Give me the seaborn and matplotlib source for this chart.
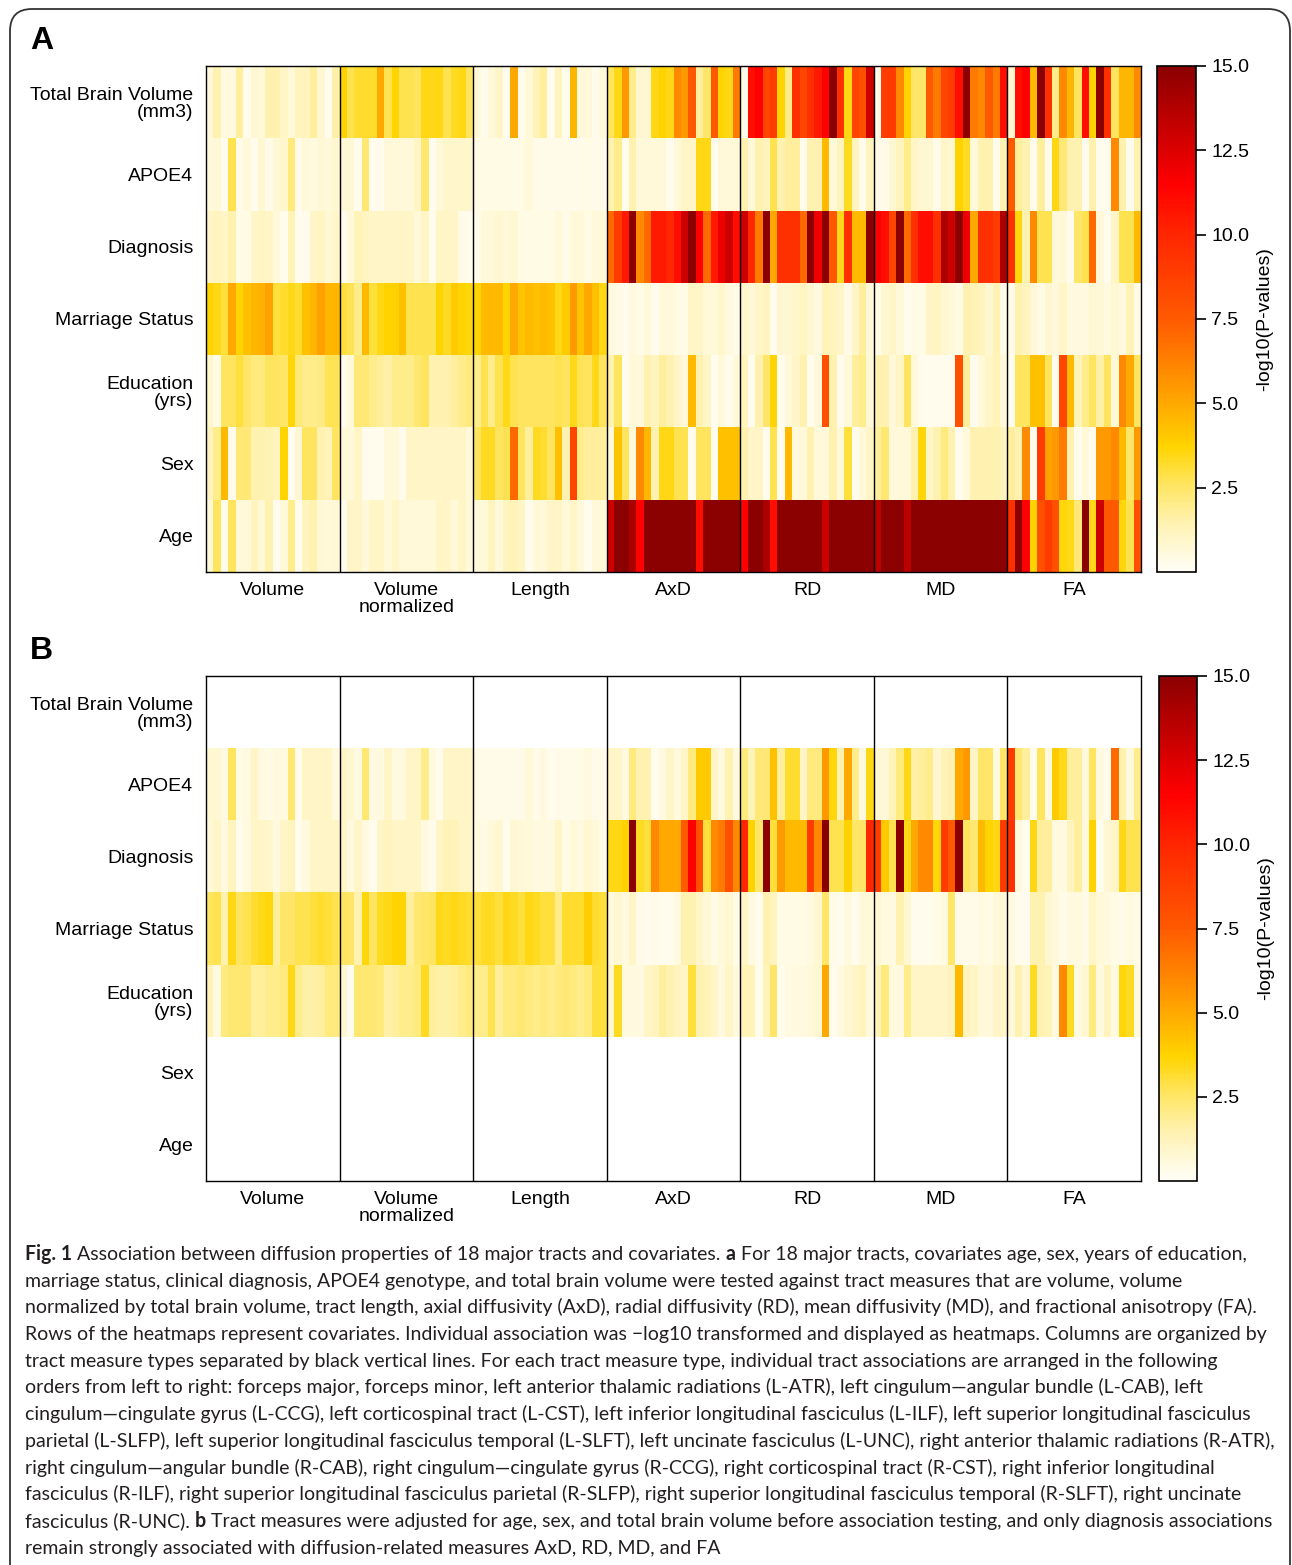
import numpy as np
import pandas as pd
import seaborn as sns
import matplotlib
matplotlib.use("Agg")
import matplotlib.pyplot as plt
from matplotlib.colors import LinearSegmentedColormap
from matplotlib.patches import FancyBboxPatch
from matplotlib.transforms import IdentityTransform, ScaledTranslation

# ---------------- data ----------------
covariates = ["Total Brain Volume\n(mm3)", "APOE4", "Diagnosis", "Marriage Status",
              "Education\n(yrs)", "Sex", "Age"]
measures = ["Volume", "Volume\nnormalized", "Length", "AxD", "RD", "MD", "FA"]
tracts = ["Fmajor", "Fminor", "L-ATR", "L-CAB", "L-CCG", "L-CST", "L-ILF", "L-SLFP", "L-SLFT",
          "L-UNC", "R-ATR", "R-CAB", "R-CCG", "R-CST", "R-ILF", "R-SLFP", "R-SLFT", "R-UNC"]
cbar_ticks = [2.5, 5.0, 7.5, 10.0, 12.5, 15.0]

# Panel A  (rows: TBV, APOE4, Diagnosis, Marriage, Education, Sex, Age; 18 tracts each)
a_volume = [
    [0.6, 1.5, 0.5, 0.5, 1.8, 0.2, 0.8, 0.6, 1.5, 1.5, 1.0, 0.6, 1.2, 1.2, 1.8, 0.8, 0.2, 1.6],
    [0.6, 0.7, 0.2, 2.8, 0.3, 0.6, 0.2, 0.8, 0.3, 0.7, 0.9, 2.2, 0.3, 0.6, 0.5, 0.7, 0.6, 0.8],
    [1.0, 1.2, 1.0, 1.5, 0.4, 0.4, 1.0, 1.1, 1.0, 0.6, 0.2, 1.3, 0.2, 0.2, 1.0, 1.1, 0.7, 0.9],
    [3.8, 3.5, 3.0, 5.0, 3.7, 4.3, 4.6, 4.7, 5.2, 3.0, 3.2, 3.4, 3.2, 4.3, 4.6, 5.2, 4.6, 4.6],
    [0.9, 0.4, 2.6, 2.6, 3.0, 2.5, 2.2, 2.2, 2.6, 2.6, 2.5, 3.6, 2.3, 2.0, 2.0, 2.1, 2.7, 2.7],
    [1.2, 2.0, 4.5, 0.3, 2.3, 2.3, 1.5, 1.5, 1.4, 1.2, 3.7, 0.2, 0.8, 2.6, 2.6, 1.5, 1.3, 2.6],
    [0.7, 2.6, 0.2, 2.6, 0.6, 0.6, 1.2, 0.7, 1.5, 0.2, 0.6, 2.0, 0.2, 1.2, 1.5, 0.7, 0.6, 0.7],
]
a_volnorm = [
    [3.8, 2.8, 3.2, 3.2, 3.2, 5.0, 2.8, 3.7, 2.8, 2.8, 2.6, 3.5, 3.5, 3.5, 2.8, 3.3, 3.5, 2.6],
    [0.7, 0.7, 0.2, 2.4, 0.2, 0.2, 0.6, 0.6, 0.6, 0.6, 1.0, 2.4, 0.2, 0.6, 0.9, 0.9, 0.9, 0.9],
    [0.2, 0.6, 1.3, 1.1, 1.0, 1.0, 1.0, 1.0, 1.0, 1.0, 0.6, 1.0, 0.2, 1.0, 1.0, 1.0, 0.3, 0.2],
    [3.0, 2.7, 2.0, 4.5, 3.0, 3.5, 3.8, 3.8, 4.3, 2.8, 2.8, 2.8, 2.8, 3.7, 3.3, 4.0, 3.7, 3.6],
    [0.2, 0.6, 2.3, 2.3, 2.0, 1.8, 1.6, 2.0, 2.0, 2.0, 2.4, 2.6, 1.5, 1.5, 1.5, 1.8, 2.0, 2.2],
    [0.6, 0.6, 1.0, 0.2, 0.2, 0.2, 0.6, 0.6, 0.2, 1.0, 1.0, 1.0, 1.0, 1.0, 1.0, 1.0, 1.0, 0.6],
    [0.2, 1.0, 1.0, 0.6, 1.0, 1.0, 0.6, 1.0, 0.6, 0.6, 0.6, 0.6, 0.6, 1.0, 1.0, 0.6, 1.0, 0.6],
]
a_length = [
    [0.6, 0.2, 0.6, 1.0, 0.2, 5.0, 0.2, 0.6, 1.3, 1.8, 0.2, 1.2, 0.2, 4.6, 0.6, 0.6, 0.2, 0.6],
    [0.4, 0.4, 0.4, 0.4, 0.4, 0.4, 0.4, 0.6, 0.3, 0.3, 0.3, 0.3, 0.3, 0.3, 0.3, 0.4, 0.3, 0.3],
    [0.3, 0.6, 0.6, 0.8, 0.6, 0.8, 0.4, 0.4, 0.4, 0.4, 0.4, 0.6, 0.3, 0.6, 0.6, 0.4, 0.6, 0.6],
    [3.7, 4.5, 4.5, 4.5, 3.7, 5.0, 4.2, 4.5, 4.3, 4.5, 4.3, 3.5, 4.0, 5.5, 4.2, 5.0, 4.3, 3.5],
    [2.0, 2.8, 2.0, 2.8, 3.4, 2.8, 2.6, 2.6, 2.6, 2.6, 2.6, 2.8, 2.6, 3.4, 2.7, 2.6, 3.4, 2.6],
    [2.6, 3.3, 3.3, 2.6, 2.8, 7.0, 2.6, 1.8, 3.3, 3.2, 2.6, 4.3, 1.5, 8.5, 2.0, 1.8, 1.8, 1.8],
    [0.6, 0.6, 1.2, 0.6, 1.2, 1.3, 1.0, 0.2, 0.6, 0.6, 1.0, 1.0, 0.6, 1.0, 0.6, 0.2, 0.6, 0.6],
]
a_axd = [
    [2.6, 3.5, 5.5, 2.0, 0.8, 0.8, 3.5, 3.8, 3.5, 6.0, 5.5, 7.5, 1.8, 2.5, 7.5, 3.7, 3.5, 6.5],
    [1.5, 2.0, 0.2, 1.5, 0.6, 0.6, 0.6, 0.6, 0.2, 0.6, 1.0, 1.0, 3.5, 3.5, 0.2, 0.6, 0.6, 0.6],
    [7.0, 9.0, 10.5, 15.0, 6.0, 7.0, 10.5, 10.5, 10.0, 11.0, 13.0, 15.0, 11.5, 7.0, 10.5, 12.0, 13.0, 11.0],
    [0.5, 0.4, 0.2, 0.5, 0.4, 0.6, 0.2, 0.6, 0.6, 0.4, 0.4, 1.0, 1.0, 0.6, 0.6, 0.9, 0.5, 0.3],
    [1.5, 2.6, 0.2, 0.6, 0.6, 1.5, 1.2, 1.8, 1.5, 1.0, 0.6, 4.5, 1.5, 1.0, 0.2, 0.6, 0.2, 0.6],
    [0.6, 4.2, 2.6, 0.6, 6.0, 4.6, 1.5, 3.5, 3.5, 2.8, 2.8, 0.2, 2.6, 2.6, 0.2, 4.3, 4.3, 4.3],
    [13.0, 15.0, 15.0, 14.0, 11.5, 15.0, 15.0, 15.0, 15.0, 15.0, 15.0, 15.0, 11.0, 15.0, 15.0, 15.0, 15.0, 15.0],
]
a_rd = [
    [0.3, 11.0, 11.5, 8.5, 9.0, 3.7, 2.0, 9.5, 8.5, 9.5, 10.5, 11.5, 15.0, 9.5, 3.5, 8.5, 8.0, 13.0],
    [1.5, 0.6, 1.5, 1.2, 2.8, 1.5, 1.8, 1.8, 0.2, 1.5, 1.5, 4.5, 0.6, 1.2, 3.3, 1.2, 0.2, 1.2],
    [13.0, 10.0, 6.5, 15.0, 5.0, 9.5, 9.5, 9.5, 7.0, 15.0, 12.0, 15.0, 7.5, 3.4, 9.5, 4.5, 4.5, 15.0],
    [0.9, 0.7, 1.0, 1.2, 0.2, 0.8, 0.8, 0.9, 1.1, 0.8, 0.5, 1.3, 1.2, 1.0, 0.3, 1.0, 1.8, 0.6],
    [1.2, 0.2, 1.5, 2.5, 3.7, 0.2, 0.6, 1.0, 1.5, 0.2, 0.6, 8.0, 1.5, 0.2, 0.6, 1.8, 2.0, 0.6],
    [1.5, 1.0, 1.0, 0.2, 2.8, 0.2, 4.5, 0.6, 0.6, 1.5, 0.6, 0.6, 1.5, 0.6, 3.0, 0.2, 0.6, 1.0],
    [11.5, 15.0, 15.0, 14.0, 11.0, 15.0, 15.0, 15.0, 15.0, 15.0, 15.0, 13.0, 15.0, 15.0, 15.0, 15.0, 15.0, 15.0],
]
a_md = [
    [0.3, 9.0, 9.0, 6.0, 3.8, 2.5, 2.5, 7.5, 6.5, 8.5, 9.0, 11.0, 15.0, 6.5, 6.0, 7.5, 6.5, 11.0],
    [0.3, 0.3, 0.8, 1.2, 2.0, 1.0, 0.8, 0.8, 0.3, 1.0, 0.8, 3.8, 3.3, 0.6, 1.5, 1.5, 0.2, 1.5],
    [11.5, 11.0, 8.5, 15.0, 7.0, 9.5, 11.0, 11.0, 9.5, 14.0, 13.0, 15.0, 12.0, 5.0, 9.5, 9.5, 9.0, 14.0],
    [0.4, 0.8, 1.0, 0.6, 0.2, 0.4, 0.4, 1.0, 1.1, 0.8, 0.6, 0.4, 1.5, 1.4, 1.2, 0.8, 1.4, 0.3],
    [1.5, 1.5, 0.6, 1.0, 2.6, 0.6, 0.2, 0.2, 0.2, 0.2, 0.2, 8.0, 1.8, 0.2, 0.6, 1.0, 1.3, 0.6],
    [1.8, 2.4, 0.6, 0.6, 0.6, 1.5, 3.6, 1.0, 1.5, 2.2, 1.5, 0.2, 0.6, 1.5, 1.5, 1.5, 1.5, 1.2],
    [13.5, 15.0, 15.0, 15.0, 13.5, 15.0, 15.0, 15.0, 15.0, 15.0, 15.0, 15.0, 15.0, 15.0, 15.0, 15.0, 15.0, 15.0],
]
a_fa = [
    [0.8, 11.0, 11.5, 4.5, 15.0, 9.5, 2.0, 6.0, 4.6, 2.6, 11.0, 3.7, 15.0, 9.5, 2.6, 4.6, 4.6, 6.0],
    [7.5, 1.8, 1.5, 0.2, 1.8, 0.2, 3.5, 2.3, 1.5, 1.5, 0.2, 1.5, 0.2, 0.2, 6.0, 1.5, 0.2, 1.5],
    [9.5, 3.6, 1.5, 6.0, 2.8, 2.8, 0.6, 0.6, 0.2, 2.5, 2.8, 7.0, 0.6, 0.2, 1.0, 2.8, 2.8, 4.5],
    [0.3, 1.5, 1.2, 0.7, 0.4, 0.8, 0.6, 1.0, 0.5, 0.5, 0.5, 0.8, 0.7, 0.5, 0.8, 0.5, 1.3, 0.4],
    [0.2, 2.6, 2.6, 4.3, 4.3, 2.6, 0.2, 8.5, 4.5, 1.3, 2.0, 2.6, 1.6, 2.6, 0.6, 6.0, 5.0, 2.6],
    [1.8, 1.5, 6.0, 0.2, 9.0, 5.2, 5.5, 6.5, 1.5, 0.2, 0.6, 0.2, 5.5, 5.5, 6.0, 4.5, 2.5, 5.5],
    [9.5, 15.0, 11.5, 3.8, 8.0, 9.0, 8.0, 3.6, 3.4, 2.3, 15.0, 3.4, 13.0, 7.5, 7.5, 3.6, 2.8, 8.0],
]

# Panel B (TBV, Sex and Age rows are empty after adjustment -> missing)
empty_row = [np.nan] * 18
b_volume = [
    empty_row,
    [0.8, 0.8, 0.5, 2.6, 0.4, 0.5, 1.0, 0.5, 0.4, 0.5, 0.5, 2.4, 0.2, 1.0, 1.0, 1.0, 1.0, 0.5],
    [0.6, 1.0, 0.5, 1.2, 0.2, 0.5, 1.0, 1.0, 0.9, 0.5, 1.0, 1.2, 0.2, 0.5, 1.0, 1.0, 1.0, 1.0],
    [2.6, 2.8, 1.5, 3.5, 2.6, 2.8, 3.2, 3.4, 3.6, 1.8, 2.5, 2.5, 2.8, 2.8, 3.0, 3.2, 3.0, 2.8],
    [1.3, 0.5, 2.2, 2.4, 2.4, 2.4, 1.8, 1.8, 2.0, 2.0, 2.2, 3.4, 2.0, 1.6, 1.6, 1.7, 2.2, 2.2],
    empty_row,
    empty_row,
]
b_volnorm = [
    empty_row,
    [1.0, 0.8, 0.5, 2.4, 0.5, 0.5, 1.0, 0.5, 0.5, 1.0, 1.0, 2.0, 0.5, 0.2, 1.0, 1.0, 1.0, 1.0],
    [1.0, 0.5, 1.0, 0.5, 0.2, 1.0, 1.2, 1.0, 1.0, 1.0, 1.0, 0.5, 0.2, 1.0, 1.3, 1.3, 1.0, 1.0],
    [2.6, 2.5, 1.5, 3.6, 2.6, 3.3, 3.5, 3.7, 3.7, 1.8, 2.4, 2.5, 2.6, 3.4, 3.3, 3.5, 3.3, 3.2],
    [0.8, 0.2, 2.4, 2.4, 2.4, 2.2, 1.6, 1.8, 2.0, 2.0, 2.2, 3.3, 1.8, 1.6, 1.6, 1.7, 2.0, 2.2],
    empty_row,
    empty_row,
]
b_length = [
    empty_row,
    [0.4, 0.3, 0.3, 0.3, 0.3, 0.3, 0.3, 0.6, 0.3, 0.5, 0.2, 0.3, 0.3, 0.3, 0.4, 0.5, 0.3, 0.3],
    [0.5, 0.4, 0.6, 0.8, 0.2, 0.8, 0.6, 0.6, 0.5, 0.5, 0.5, 1.0, 0.4, 0.6, 0.5, 0.8, 0.6, 0.4],
    [3.0, 3.3, 3.3, 3.0, 3.5, 3.3, 3.0, 3.5, 3.3, 3.0, 3.0, 2.0, 3.2, 3.2, 3.2, 3.9, 3.2, 3.0],
    [2.0, 2.0, 2.8, 1.8, 2.2, 2.2, 2.4, 2.2, 2.0, 2.2, 2.0, 2.2, 2.3, 2.2, 2.0, 2.2, 3.0, 3.0],
    empty_row,
    empty_row,
]
b_axd = [
    empty_row,
    [1.0, 1.0, 0.5, 2.2, 1.5, 1.5, 0.2, 0.5, 1.0, 0.5, 1.0, 2.2, 4.0, 4.0, 1.0, 0.5, 1.5, 0.5],
    [3.5, 3.5, 3.8, 15.0, 3.3, 3.0, 6.0, 5.0, 5.0, 5.0, 7.5, 11.5, 8.0, 3.0, 6.0, 6.5, 8.0, 6.0],
    [0.5, 0.8, 0.5, 1.0, 0.3, 0.2, 0.3, 0.2, 0.2, 0.5, 1.5, 1.5, 1.0, 0.7, 0.4, 0.6, 0.8, 0.4],
    [0.8, 3.3, 0.5, 0.5, 0.5, 1.0, 1.2, 1.8, 1.5, 1.2, 1.0, 3.0, 1.5, 1.3, 1.0, 0.5, 1.0, 0.5],
    empty_row,
    empty_row,
]
b_rd = [
    empty_row,
    [2.2, 1.3, 2.3, 2.3, 4.3, 1.8, 3.2, 3.2, 1.0, 2.2, 2.2, 5.5, 3.6, 1.5, 5.0, 2.0, 0.5, 3.5],
    [10.0, 3.8, 2.5, 15.0, 3.0, 5.5, 4.5, 4.5, 4.5, 9.0, 6.0, 15.0, 2.8, 2.8, 3.8, 2.5, 2.5, 10.0],
    [1.0, 0.5, 0.2, 1.5, 1.2, 0.4, 0.4, 0.4, 0.4, 0.5, 0.8, 2.5, 0.3, 0.2, 0.5, 0.2, 0.6, 0.6],
    [1.3, 1.3, 0.2, 1.3, 2.5, 0.2, 0.5, 0.5, 0.5, 0.6, 0.8, 5.0, 0.2, 0.5, 0.8, 1.0, 1.2, 0.5],
    empty_row,
    empty_row,
]
b_md = [
    empty_row,
    [0.8, 0.7, 1.3, 2.2, 3.5, 1.6, 1.8, 2.0, 0.8, 1.3, 1.5, 5.0, 5.5, 1.0, 2.5, 2.5, 0.5, 2.5],
    [9.0, 4.0, 2.8, 15.0, 3.4, 5.0, 6.0, 6.0, 3.6, 9.0, 7.5, 15.0, 2.6, 2.4, 4.5, 3.7, 3.5, 9.0],
    [0.8, 0.5, 0.5, 1.5, 0.8, 0.2, 0.2, 0.2, 0.4, 0.5, 2.5, 0.3, 0.3, 0.3, 0.5, 0.4, 0.6, 0.7],
    [1.3, 2.2, 0.5, 0.5, 2.0, 1.0, 1.0, 1.0, 1.0, 1.0, 1.2, 4.5, 1.2, 1.0, 0.6, 0.6, 1.0, 1.0],
    empty_row,
    empty_row,
]
b_fa = [
    empty_row,
    [9.0, 2.4, 1.8, 0.2, 2.6, 0.5, 4.0, 3.4, 1.8, 1.8, 0.5, 2.6, 0.5, 0.2, 7.0, 1.5, 0.5, 2.0],
    [9.5, 0.5, 0.2, 3.5, 1.8, 1.8, 0.5, 0.5, 1.2, 1.8, 0.5, 3.8, 0.2, 0.8, 1.0, 3.5, 2.8, 2.8],
    [0.5, 0.2, 0.2, 1.5, 1.5, 0.8, 0.6, 0.3, 0.5, 0.5, 0.3, 1.0, 0.6, 0.5, 0.4, 0.3, 0.5, 0.4],
    [0.6, 1.5, 0.8, 3.3, 1.5, 1.3, 0.5, 6.0, 3.3, 0.5, 0.8, 2.2, 0.5, 1.2, 0.5, 3.6, 3.3, 0.5],
    empty_row,
    empty_row,
]

caption_lines = [
    [("Fig. 1", True), ("Association between diffusion properties of 18 major tracts and covariates.", False),
     ("a", True), ("For 18 major tracts, covariates age, sex, years of education,", False)],
    [("marriage status, clinical diagnosis, APOE4 genotype, and total brain volume were tested against tract measures that are volume, volume", False)],
    [("normalized by total brain volume, tract length, axial diffusivity (AxD), radial diffusivity (RD), mean diffusivity (MD), and fractional anisotropy (FA).", False)],
    [("Rows of the heatmaps represent covariates. Individual association was \u2212log10 transformed and displayed as heatmaps. Columns are organized by", False)],
    [("tract measure types separated by black vertical lines. For each tract measure type, individual tract associations are arranged in the following", False)],
    [("orders from left to right: forceps major, forceps minor, left anterior thalamic radiations (L-ATR), left cingulum\u2014angular bundle (L-CAB), left", False)],
    [("cingulum\u2014cingulate gyrus (L-CCG), left corticospinal tract (L-CST), left inferior longitudinal fasciculus (L-ILF), left superior longitudinal fasciculus", False)],
    [("parietal (L-SLFP), left superior longitudinal fasciculus temporal (L-SLFT), left uncinate fasciculus (L-UNC), right anterior thalamic radiations (R-ATR),", False)],
    [("right cingulum\u2014angular bundle (R-CAB), right cingulum\u2014cingulate gyrus (R-CCG), right corticospinal tract (R-CST), right inferior longitudinal", False)],
    [("fasciculus (R-ILF), right superior longitudinal fasciculus parietal (R-SLFP), right superior longitudinal fasciculus temporal (R-SLFT), right uncinate", False)],
    [("fasciculus (R-UNC).", False), ("b", True),
     ("Tract measures were adjusted for age, sex, and total brain volume before association testing, and only diagnosis associations", False)],
    [("remain strongly associated with diffusion-related measures AxD, RD, MD, and FA", False)],
]

# ---------------- style ----------------
sns.set_theme(style="white")
plt.rcParams["font.family"] = ["Liberation Sans", "DejaVu Sans"]
plt.rcParams["text.color"] = "black"
plt.rcParams["xtick.color"] = "black"
plt.rcParams["ytick.color"] = "black"
plt.rcParams["axes.labelcolor"] = "black"

W, H = 1292, 1565
fig = plt.figure(figsize=(W / 100, H / 100), dpi=100)
fig.patch.set_facecolor("white")

cmap = LinearSegmentedColormap.from_list("heat", [
    (0.0, "#FFFEF6"), (1.5 / 15, "#FFF1AE"), (2.5 / 15, "#FFE666"), (3.7 / 15, "#FFD400"),
    (5.0 / 15, "#FFA800"), (7.5 / 15, "#FF5A00"), (10.0 / 15, "#FF2600"),
    (11.5 / 15, "#FF0000"), (12.5 / 15, "#DD0000"), (1.0, "#8B0000")])

LBL = 14


def px_axes(x0, y0, x1, y1):
    return fig.add_axes([x0 / W, 1 - y1 / H, (x1 - x0) / W, (y1 - y0) / H])


def build(blocks):
    arr = np.hstack([np.asarray(b, dtype=float) for b in blocks])
    cols = [f"{m.splitlines()[0]}|{t}" for m in measures for t in tracts]
    return pd.DataFrame(arr, index=covariates, columns=cols)


def draw_panel(df, ax_box, cax_box):
    ax = px_axes(*ax_box)
    cax = px_axes(*cax_box)
    sns.heatmap(df, ax=ax, cmap=cmap, vmin=0, vmax=15, cbar_ax=cax,
                xticklabels=False, yticklabels=False)
    ax.set_facecolor("white")
    n = len(tracts)
    for k in range(1, len(measures)):
        ax.axvline(k * n, color="black", lw=1.0)
    for s in ax.spines.values():
        s.set_visible(True)
        s.set_color("black")
        s.set_linewidth(1.0)
    ax.set_xticks(np.arange(len(measures)) * n + n / 2)
    ax.set_xticklabels(measures, fontsize=LBL, linespacing=1.0, va="top")
    shift = ScaledTranslation(4 / 100, 0, fig.dpi_scale_trans)
    for lab in ax.get_xticklabels():
        lab.set_transform(lab.get_transform() + shift)
    ax.set_yticks(np.arange(len(covariates)) + 0.5)
    ax.set_yticklabels(covariates, rotation=0, fontsize=LBL, linespacing=1.0)
    ax.tick_params(axis="both", length=0)
    ax.tick_params(axis="x", pad=7)
    ax.tick_params(axis="y", pad=9)
    ax.set_xlabel("")
    ax.set_ylabel("")
    cbar = ax.collections[0].colorbar
    cbar.set_ticks(cbar_ticks)
    cbar.set_ticklabels([f"{t:.1f}" for t in cbar_ticks])
    cbar.ax.tick_params(labelsize=LBL, length=7, width=1.2, color="black",
                        direction="out", right=True, pad=4)
    cbar.outline.set_edgecolor("black")
    cbar.outline.set_linewidth(1.2)
    cbar.set_label("-log10(P-values)", fontsize=LBL, rotation=90, labelpad=5)
    return ax


draw_panel(build([a_volume, a_volnorm, a_length, a_axd, a_rd, a_md, a_fa]),
           (206, 66, 1141, 572), (1157, 66, 1196, 572))
draw_panel(build([b_volume, b_volnorm, b_length, b_axd, b_rd, b_md, b_fa]),
           (206, 676, 1141, 1181), (1159, 676, 1197, 1181))

fig.text(30 / W, 1 - 41 / H, "A", fontsize=23, fontweight="bold", va="center", ha="left")
fig.text(30 / W, 1 - 651 / H, "B", fontsize=23, fontweight="bold", va="center", ha="left")

# rounded frame around the figure
frame = FancyBboxPatch((10, -30), 1280, H - 9 + 30, boxstyle="round,pad=0,rounding_size=22",
                       transform=IdentityTransform(), fill=False, ec="#333333", lw=1.3)
fig.add_artist(frame)

# ---------------- caption ----------------
fig.canvas.draw()
renderer = fig.canvas.get_renderer()
cap_family = ["Lato", "DejaVu Sans"]


def text_width(s, size, bold=False):
    t = fig.text(0, 0, s, fontsize=size, family=cap_family,
                 fontweight="bold" if bold else "normal")
    w = t.get_window_extent(renderer).width
    t.remove()
    return w


ref = caption_lines[3][0][0]
size = 12 * (1240 / text_width(ref, 12))
space = text_width("x x", size) - text_width("xx", size)

for i, segs in enumerate(caption_lines):
    x = 25.0
    y = 1260 + i * 26.7
    for j, (txt, bold) in enumerate(segs):
        t = fig.text(x / W, 1 - y / H, txt, fontsize=size, family=cap_family,
                     fontweight="bold" if bold else "normal", va="baseline", ha="left",
                     color="#231F20")
        x = t.get_window_extent(renderer).x1 + space

fig.savefig("out.png", dpi=100)
